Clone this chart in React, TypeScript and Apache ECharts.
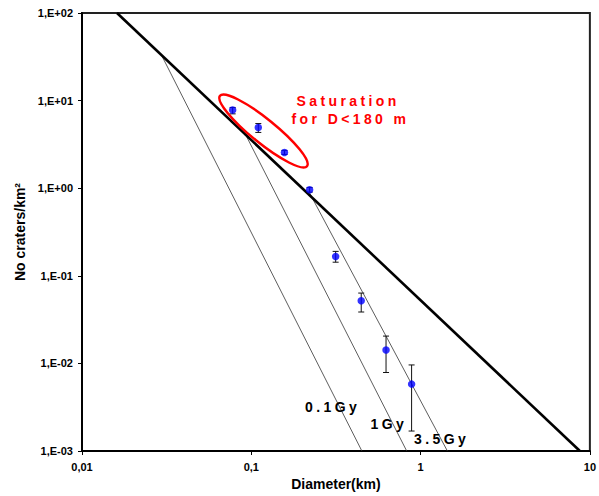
import React, { useEffect, useRef } from "react";
import * as echarts from "echarts";

// Crater size-frequency data (diameter km, cumulative density per km²)
const diameters = [0.0776, 0.110, 0.157, 0.221, 0.315, 0.446, 0.625, 0.885];
const densities = [7.8, 4.93, 2.56, 0.96, 0.166, 0.0519, 0.0142, 0.0058];
const errHigh = [8.35, 5.47, 2.7, 1.02, 0.19, 0.0635, 0.0205, 0.0096];
const errLow = [7.06, 4.33, 2.43, 0.9, 0.143, 0.0386, 0.00787, 0.00169];

// Saturation line endpoints
const saturationD = [0.0161, 8.73];
const saturationN = [100, 0.001];

// Isochrons
const iso01D = [0.0292, 0.45];
const iso01N = [34.3, 0.001];
const iso1D = [0.0935, 0.828];
const iso1N = [3.93, 0.001];
const iso35D = [0.219, 1.44];
const iso35N = [0.91, 0.001];

const xTickLabels: Record<number, string> = { [-2]: "0,01", [-1]: "0,1", 0: "1", 1: "10" };
const yTickLabels: Record<number, string> = {
  2: "1,E+02",
  1: "1,E+01",
  0: "1,E+00",
  [-1]: "1,E-01",
  [-2]: "1,E-02",
  [-3]: "1,E-03",
};

const FONT = "Arial, 'Liberation Sans', sans-serif";
const SPACED = ["Saturation", "for D<180 m", "0.1Gy", "1Gy", "3.5Gy"];

export default function App() {
  const ref = useRef<HTMLDivElement>(null);
  useEffect(() => {
    if (!ref.current) return;
    const chart = echarts.init(ref.current, undefined, { renderer: "svg" });
    const pair = (xs: number[], ys: number[]) => xs.map((x, i) => [x, ys[i]]);
    const thin = (d: number[][]) => ({
      type: "line",
      data: d,
      showSymbol: false,
      symbol: "none",
      lineStyle: { color: "#333", width: 0.8 },
      z: 2,
    });
    const option: any = {
      animation: false,
      grid: {
        left: 82,
        right: 7,
        top: 13,
        bottom: 42,
        show: true,
        borderColor: "#222",
        borderWidth: 2,
        backgroundColor: "#fff",
      },
      xAxis: {
        type: "log",
        logBase: 10,
        min: 0.01,
        max: 10,
        name: "Diameter(km)",
        nameLocation: "middle",
        nameGap: 26,
        nameTextStyle: { fontFamily: FONT, fontWeight: "bold", fontSize: 14, color: "#000" },
        axisLine: { lineStyle: { color: "#000", width: 2 } },
        axisTick: { show: true, inside: false, length: 4, lineStyle: { color: "#000" } },
        minorTick: { show: false },
        splitLine: { show: false },
        axisLabel: {
          margin: 10,
          fontFamily: FONT,
          fontWeight: "bold",
          fontSize: 11,
          color: "#000",
          formatter: (v: number) => xTickLabels[Math.round(Math.log10(v))] ?? "",
        },
      },
      yAxis: {
        type: "log",
        logBase: 10,
        min: 0.001,
        max: 100,
        name: "No craters/km²",
        nameLocation: "middle",
        nameGap: 55,
        nameTextStyle: { fontFamily: FONT, fontWeight: "bold", fontSize: 14, color: "#000" },
        axisLine: { lineStyle: { color: "#000", width: 2 } },
        axisTick: { show: true, inside: false, length: 4, lineStyle: { color: "#000" } },
        minorTick: { show: false },
        splitLine: { show: false },
        axisLabel: {
          margin: 9,
          fontFamily: FONT,
          fontWeight: "bold",
          fontSize: 11,
          color: "#000",
          formatter: (v: number) => yTickLabels[Math.round(Math.log10(v))] ?? "",
        },
      },
      series: [
        {
          type: "line",
          data: pair(saturationD, saturationN),
          showSymbol: false,
          symbol: "none",
          lineStyle: { color: "#000", width: 2.6 },
          z: 3,
        },
        thin(pair(iso01D, iso01N)),
        thin(pair(iso1D, iso1N)),
        thin(pair(iso35D, iso35N)),
        {
          type: "custom",
          data: diameters.map((d, i) => [d, errLow[i], errHigh[i]]),
          encode: { x: 0, y: [1, 2] },
          z: 4,
          renderItem: (params: any, api: any) => {
            const x = api.value(0);
            const lo = api.coord([x, api.value(1)]);
            const hi = api.coord([x, api.value(2)]);
            const st = { stroke: "#111", lineWidth: 1 };
            return {
              type: "group",
              children: [
                { type: "line", shape: { x1: lo[0], y1: lo[1], x2: hi[0], y2: hi[1] }, style: st },
                { type: "line", shape: { x1: lo[0] - 3, y1: lo[1], x2: lo[0] + 3, y2: lo[1] }, style: st },
                { type: "line", shape: { x1: hi[0] - 3, y1: hi[1], x2: hi[0] + 3, y2: hi[1] }, style: st },
              ],
            };
          },
        },
        {
          type: "scatter",
          data: pair(diameters, densities),
          symbol: "circle",
          symbolSize: 7.5,
          itemStyle: { color: "#0000ff" },
          z: 5,
        },
      ],
      graphic: [
        {
          type: "ellipse",
          x: 263.5,
          y: 131,
          rotation: (-39 * Math.PI) / 180,
          shape: { cx: 0, cy: 0, rx: 56, ry: 12 },
          style: { fill: "none", stroke: "#ff0000", lineWidth: 2.5 },
          z: 10,
        },
        {
          type: "text",
          x: 296.5,
          y: 100.5,
          style: { text: "Saturation", fill: "#ff0000", font: `bold 14px ${FONT}`, textAlign: "left", textVerticalAlign: "middle" },
          z: 10,
        },
        {
          type: "text",
          x: 291.5,
          y: 118.8,
          style: { text: "for D<180 m", fill: "#ff0000", font: `bold 14px ${FONT}`, textAlign: "left", textVerticalAlign: "middle" },
          z: 10,
        },
        {
          type: "text",
          x: 305,
          y: 406.8,
          style: { text: "0.1Gy", fill: "#000", font: `bold 14px ${FONT}`, textAlign: "left", textVerticalAlign: "middle" },
          z: 10,
        },
        {
          type: "text",
          x: 370.5,
          y: 424.4,
          style: { text: "1Gy", fill: "#000", font: `bold 14px ${FONT}`, textAlign: "left", textVerticalAlign: "middle" },
          z: 10,
        },
        {
          type: "text",
          x: 414,
          y: 439,
          style: { text: "3.5Gy", fill: "#000", font: `bold 14px ${FONT}`, textAlign: "left", textVerticalAlign: "middle" },
          z: 10,
        },
      ],
    };
    chart.setOption(option);
    const applySpacing = () => {
      const root = ref.current;
      if (!root) return;
      root.querySelectorAll("text").forEach((t) => {
        const s = (t.textContent || "").trim();
        if (SPACED.includes(s)) {
          (t as SVGTextElement).style.letterSpacing = "3.4px";
        }
      });
    };
    applySpacing();
    chart.on("finished", applySpacing);
    const t1 = setTimeout(applySpacing, 0);
    const t2 = setTimeout(applySpacing, 200);
    return () => {
      clearTimeout(t1);
      clearTimeout(t2);
      chart.dispose();
    };
  }, []);
  return <div ref={ref} style={{ width: 599, height: 496, position: "absolute", left: 0, top: 0, background: "#fff" }} />;
}
